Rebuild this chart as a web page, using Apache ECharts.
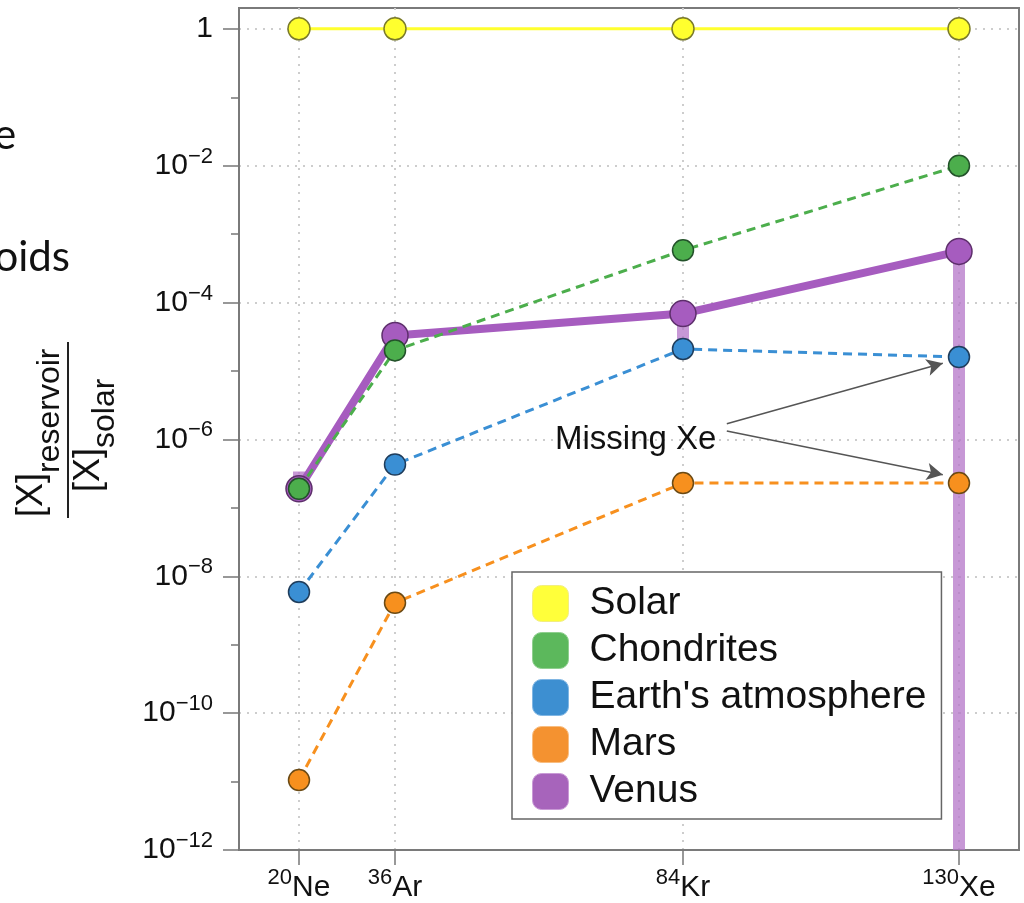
<!DOCTYPE html>
<html>
<head>
<meta charset="utf-8">
<script src="https://cdn.jsdelivr.net/npm/echarts@6/dist/echarts.min.js"></script>
<style>
  html, body { margin: 0; padding: 0; background: #fff; }
  #chart { width: 1024px; height: 903px; }
</style>
</head>
<body>
<div id="chart"></div>
<script>
// ---- data ----
const masses = [20, 36, 84, 130];
const elements = ['Ne', 'Ar', 'Kr', 'Xe'];
const solar = [1, 1, 1, 1];
const chondrites = [1.9e-7, 2.0e-5, 5.8e-4, 1.0e-2];
const earthAtm = [5.9e-9, 4.3e-7, 2.1e-5, 1.6e-5];
const mars = [1.05e-11, 4.1e-9, 2.3e-7, 2.3e-7];
const venus = [1.9e-7, 3.3e-5, 6.9e-5, 5.6e-4];
const venusLow = [1.3e-7, 2.6e-5, 2.8e-5, 1e-14];
const venusHigh = [3.4e-7, 4.4e-5, 8.5e-5, 6.5e-4];
const yMajorExp = [-12, -10, -8, -6, -4, -2, 0];
const yMinorExp = [-11, -9, -7, -5, -3, -1];
const legendNames = ['Solar', 'Chondrites', "Earth's atmosphere", 'Mars', 'Venus'];
// annotation arrows: [mass, ratio] start -> end
const arrowFrom = [91.3, 1.7e-6];
const arrowTo1 = [127.3, 1.3e-5];
const arrowFrom2 = [91.3, 1.33e-6];
const arrowTo2 = [127.3, 3.05e-7];

const L = Math.log10;
const toPts = arr => arr.map((v, i) => [masses[i], L(v)]);
const FONT = 'Liberation Sans';
const dotted = { color: '#cdcdcd', width: 2, type: [2, 6] };
const frame = { show: true, onZero: false, lineStyle: { color: '#7a7a7a', width: 2 } };

const chart = echarts.init(document.getElementById('chart'), null, { renderer: 'canvas' });

function lineSeries(name, vals, color, border, dashed, width, size, z) {
  return {
    name, type: 'line', data: toPts(vals), z,
    symbol: 'circle', symbolSize: size,
    lineStyle: { color, width, type: dashed ? [9, 6] : 'solid' },
    itemStyle: { color, borderColor: border, borderWidth: 1.5, opacity: 1 },
    emphasis: { disabled: true },
    animation: false
  };
}

const legendColors = {
  'Solar': ['#ffff3a', '#f2ee80'],
  'Chondrites': ['#5cb85c', '#8fcf8f'],
  "Earth's atmosphere": ['#3d8fd1', '#80b6e3'],
  'Mars': ['#f49230', '#f8bd80'],
  'Venus': ['#a764bb', '#c99ad6']
};

const option = {
  animation: false,
  grid: { left: 239, right: 5, top: 8, bottom: 50, show: true, borderColor: '#7a7a7a', borderWidth: 2, backgroundColor: 'transparent' },
  xAxis: {
    type: 'value', min: 10, max: 140,
    axisLine: frame,
    axisTick: { show: true, customValues: masses, length: 15, lineStyle: { color: '#777', width: 1.5 } },
    axisLabel: {
      customValues: masses, margin: 17,
      formatter: v => { const i = masses.indexOf(v); return i < 0 ? '' : '{s|' + masses[i] + '}{b|' + elements[i] + '}'; },
      rich: {
        b: { fontFamily: FONT, fontSize: 30, color: '#111', lineHeight: 42, verticalAlign: 'middle' },
        s: { fontFamily: FONT, fontSize: 22, color: '#111', lineHeight: 22, verticalAlign: 'top' }
      }
    },
    splitLine: { show: true, lineStyle: dotted }
  },
  yAxis: [{
    type: 'value', min: -12, max: 0.305, interval: 2, position: 'left',
    axisLine: frame,
    axisTick: { show: true, customValues: yMajorExp, length: 16, lineStyle: { color: '#777', width: 1.5 } },
    axisLabel: {
      customValues: yMajorExp, margin: 26,
      formatter: v => v === 0 ? '{b|1}' : '{b|10}{s|\u2212' + Math.abs(v) + '}',
      rich: {
        b: { fontFamily: FONT, fontSize: 30, color: '#111', lineHeight: 40, verticalAlign: 'middle' },
        s: { fontFamily: FONT, fontSize: 22, color: '#111', lineHeight: 22, verticalAlign: 'top' }
      }
    },
    splitLine: { show: true, lineStyle: dotted }
  }, {
    type: 'value', min: -12, max: 0.305, position: 'left',
    axisLine: { show: false, onZero: false },
    axisTick: { show: true, customValues: yMinorExp, length: 8, lineStyle: { color: '#777', width: 1.5 } },
    axisLabel: { show: false },
    splitLine: { show: false }
  }],
  legend: {
    orient: 'vertical', left: 512, top: 572,
    data: legendNames.map(n => ({ name: n, itemStyle: { color: legendColors[n][0], borderColor: legendColors[n][1], borderWidth: 1 } })),
    icon: 'roundRect', itemWidth: 36, itemHeight: 36, itemGap: 8,
    textStyle: { fontFamily: FONT, fontSize: 39, color: '#111', lineHeight: 36, padding: [0, 0, 0, 16] },
    backgroundColor: '#fff', borderColor: '#666', borderWidth: 1.5,
    padding: [12, 15, 8, 20],
    selectedMode: false
  },
  series: [
    {
      name: 'Venus range', type: 'custom', z: 1,
      data: masses.map((m, i) => [m, L(venusLow[i]), L(venusHigh[i])]),
      renderItem: (params, api) => {
        const x = api.value(0);
        const p1 = api.coord([x, api.value(1)]);
        const p2 = api.coord([x, api.value(2)]);
        const cs = params.coordSys;
        const yb = Math.min(p1[1], cs.y + cs.height);
        const yt = Math.max(p2[1], cs.y);
        return { type: 'rect', shape: { x: p1[0] - 6, y: yt, width: 12, height: yb - yt }, style: { fill: 'rgba(180,118,200,0.75)' } };
      },
      animation: false
    },
    lineSeries('Venus', venus, '#a65cbf', '#5e2f6c', false, 8, 26, 2),
    lineSeries('Mars', mars, '#f7901e', '#6b4a14', true, 3, 21, 3),
    Object.assign(lineSeries("Earth's atmosphere", earthAtm, '#3a8fd4', '#1f3d5c', true, 3, 21, 4), {
      markLine: {
        silent: true, animation: false,
        symbol: ['none', 'arrow'], symbolSize: [13, 16],
        lineStyle: { color: '#555', width: 1.5, type: 'solid' },
        label: { show: false },
        data: [
          [{ coord: [arrowFrom[0], L(arrowFrom[1])] }, { coord: [arrowTo1[0], L(arrowTo1[1])] }],
          [{ coord: [arrowFrom2[0], L(arrowFrom2[1])] }, { coord: [arrowTo2[0], L(arrowTo2[1])] }]
        ]
      }
    }),
    lineSeries('Chondrites', chondrites, '#4cae4c', '#23522a', true, 3, 21, 5),
    lineSeries('Solar', solar, '#ffff2e', '#7a7a2a', false, 3, 22, 6)
  ],
  graphic: [
    { type: 'text', x: -6, y: 156, silent: true, style: { text: 'e', font: '42px Lato', fill: '#111', verticalAlign: 'bottom' } },
    { type: 'text', x: 70, y: 278, silent: true, style: { text: 'oids', font: '42px Lato', fill: '#111', textAlign: 'right', verticalAlign: 'bottom' } },
    { type: 'text', x: 555, y: 440, silent: true, z: 10, style: { text: 'Missing Xe', fontFamily: FONT, fontSize: 33, fill: '#111', verticalAlign: 'middle' } },
    {
      type: 'group', x: 67, y: 430, rotation: Math.PI / 2, silent: true,
      children: [
        { type: 'text', x: -43, y: -35, style: { text: '[X]', fontFamily: FONT, fontSize: 36, fill: '#111', textAlign: 'right', verticalAlign: 'middle' } },
        { type: 'text', x: -43, y: -16.6, style: { text: 'reservoir', fontFamily: FONT, fontSize: 32, fill: '#111', textAlign: 'left', verticalAlign: 'middle' } },
        { type: 'line', shape: { x1: -88, y1: 1, x2: 88, y2: 1 }, style: { stroke: '#222', lineWidth: 2 } },
        { type: 'text', x: -18, y: 22.2, style: { text: '[X]', fontFamily: FONT, fontSize: 36, fill: '#111', textAlign: 'right', verticalAlign: 'middle' } },
        { type: 'text', x: -18, y: 38.4, style: { text: 'solar', fontFamily: FONT, fontSize: 32, fill: '#111', textAlign: 'left', verticalAlign: 'middle' } }
      ]
    }
  ]
};
chart.setOption(option);
</script>
</body>
</html>
